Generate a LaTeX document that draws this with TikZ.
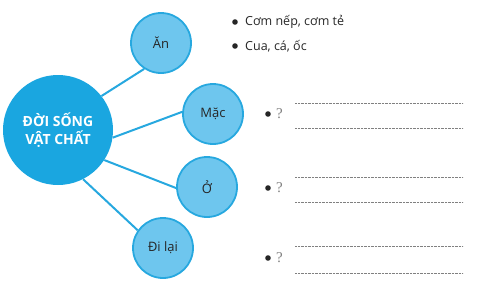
\documentclass[tikz,border=0pt]{standalone}
\usepackage{fontspec}
\setmainfont{Open Sans}
\newfontfamily\askfont{Liberation Serif}
\definecolor{HubBlue}{HTML}{1AA6E0}
\definecolor{LeafBlue}{HTML}{6EC6EE}
\definecolor{LinkBlue}{HTML}{27A8DF}
\usetikzlibrary{positioning}

\begin{document}
\begin{tikzpicture}[x=1pt,y=-1pt,
      hub/.style={circle,fill=HubBlue,minimum size=110pt,inner sep=0pt,align=center,
                  text=white,font=\fontsize{14}{18}\selectfont\bfseries},
      leaf/.style={circle,draw=LinkBlue,line width=1.8pt,fill=LeafBlue,minimum size=60pt,
                   inner sep=0pt,text=black!85,font=\fontsize{13}{15}\selectfont},
      link/.style={draw=LinkBlue,line width=2pt},
      item/.style={anchor=west,inner sep=0pt,text=black!85,font=\fontsize{12.5}{15}\selectfont},
      ask/.style={anchor=west,inner sep=0pt,text=gray,font=\askfont\fontsize{15}{17}\selectfont},
      dot/.style={fill=black!85},
      blank/.style={draw=gray,line width=0.6pt,dash pattern=on 0.9pt off 0.5pt}]
    \useasboundingbox (0,0) rectangle (485,295);
    \node[hub]  (doisong) at (58,130)  {ĐỜI SỐNG\\VẬT CHẤT};
    \node[leaf] (an)      at (161,43)  {Ăn};
    \node[leaf] (mac)     at (213,114) {Mặc};
    \node[leaf] (o)       at (207,187) {Ở};
    \node[leaf] (dilai)   at (163,248) {Đi lại};
    \foreach \a/\b/\c in {38/an/237,-8/mac/176,-33/o/182,-63/dilai/145}
      \draw[link] (doisong.\a) -- (\b.\c);
    \node[item] (an1) at (245,22) {Cơm nếp, cơm tẻ};
    \node[item] (an2) at (245,46) {Cua, cá, ốc};
    \foreach \n/\y in {macq/114,oq/188,dilaiq/258}
      \node[ask] (\n) at (276,\y) {?};
    \foreach \y in {22,46}
      \fill[dot] (235,\y) circle (2.8pt);
    \foreach \y in {114,188,258}
      \fill[dot] (268,\y) circle (2.8pt);
    \foreach \y in {103,128,177,202,246,273}
      \draw[blank] (295,\y) -- (463,\y);
  \end{tikzpicture}
\end{document}
